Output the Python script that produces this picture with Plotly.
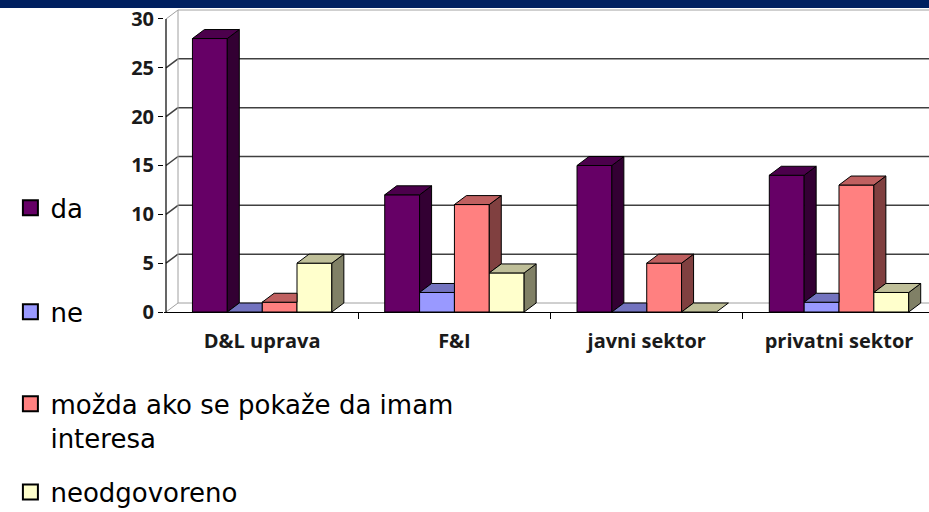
import plotly.graph_objects as go

categories = ["D&L uprava", "F&I", "javni sektor", "privatni sektor"]
series_names = ["da", "ne", "možda ako se pokaže da imam<br>interesa", "neodgovoreno"]
da = [28, 12, 15, 14]
ne = [0, 2, 0, 1]
mozda = [1, 11, 5, 13]
neodgovoreno = [5, 4, 0, 2]
y_ticks = [0, 5, 10, 15, 20, 25, 30]

front_colors = ["#660066", "#9999ff", "#ff8080", "#ffffcc"]
top_colors = ["#4c004c", "#7373bf", "#bf6060", "#bfbf99"]
side_colors = ["#330033", "#4d4d80", "#804040", "#808066"]

series = [da, ne, mozda, neodgovoreno]

# 3d look: depth offset in data units (about 12px right, 9px up)
bargap = 0.275
w = (1 - bargap) / len(series)
dx = 0.0624
dy = 0.92
x0 = -0.5
x_end = 3.468
y_top = 31.125
ymax = y_ticks[-1]

fig = go.Figure()

# front faces
for i, vals in enumerate(series):
    fig.add_trace(go.Bar(
        x=[c + (i - 1.5) * w for c in range(len(categories))],
        y=vals, width=w, name=series_names[i], showlegend=False,
        marker=dict(color=front_colors[i], line=dict(color="black", width=1)),
    ))


def face(xs, ys, color):
    fig.add_trace(go.Scatter(x=xs + [xs[0]], y=ys + [ys[0]], mode="lines", fill="toself",
                             fillcolor=color, line=dict(color="black", width=1),
                             hoverinfo="skip", showlegend=False))


# top and side faces, left to right so nearer faces cover the others
for c in range(len(categories)):
    for i, vals in enumerate(series):
        h = vals[c]
        L = c + (i - 1.5) * w - w / 2
        R = L + w
        nxt = series[i + 1][c] if i + 1 < len(series) else None
        # side face, hidden below the next bar's height
        b = 0 if nxt is None else nxt
        if b < h:
            face([R, R, R + dx, R + dx], [b, h, h + dy, b + dy], side_colors[i])
        # top face, cut where the next bar is taller
        if nxt is not None and nxt > h:
            face([L, R, R, L + dx], [h, h, h + dy, h + dy], top_colors[i])
        else:
            face([L, R, R + dx, L + dx], [h, h, h + dy, h + dy], top_colors[i])

# legend entries (square swatches), one legend box per series
for i in range(len(series)):
    fig.add_trace(go.Scatter(
        x=[None], y=[None], mode="markers", name=series_names[i],
        marker=dict(symbol="square", size=15, color=front_colors[i], line=dict(color="black", width=2)),
        legend="legend" if i == 0 else "legend%d" % (i + 1),
    ))

# walls
shapes = []
for v in y_ticks:
    col = "#a0a0a0" if v in (0, ymax) else "#404040"
    wd = 1 if v in (0, ymax) else 1.5
    shapes.append(dict(type="line", xref="x", yref="y", x0=x0 + dx, x1=x_end + 1, y0=v + dy, y1=v + dy,
                       line=dict(color=col, width=wd), layer="below"))
    shapes.append(dict(type="line", xref="x", yref="y", x0=x0, x1=x0 + dx, y0=v, y1=v + dy,
                       line=dict(color=col, width=wd), layer="below"))
shapes.append(dict(type="line", xref="x", yref="y", x0=x0 + dx, x1=x0 + dx, y0=dy, y1=ymax + dy,
                   line=dict(color="#a0a0a0", width=1), layer="below"))
shapes.append(dict(type="line", xref="x", yref="y", x0=x0, x1=x0, y0=0, y1=ymax,
                   line=dict(color="black", width=1.2), layer="below"))
# title band
shapes.append(dict(type="rect", xref="paper", yref="paper", x0=-0.3, x1=1.1, y0=1.0, y1=1.04,
                   fillcolor="#002060", line=dict(width=0)))

fig.update_layout(
    width=929, height=512,
    margin=dict(l=164, r=0, t=8, b=200, autoexpand=False),
    paper_bgcolor="white", plot_bgcolor="white",
    barmode="overlay",
    shapes=shapes,
    font=dict(family="DejaVu Sans", color="black"),
    xaxis=dict(range=[x0 - 0.0104, x_end], tickvals=list(range(len(categories))), ticktext=categories,
               ticks="", showgrid=False, zeroline=False, showline=True, linecolor="black", linewidth=1.2,
               tickfont=dict(size=20, family="Open Sans", weight="bold", color="#1a1a1a"),
               ticklabelstandoff=11, automargin=False,
               minor=dict(tickmode="array", tickvals=[0.5, 1.5, 2.5], ticks="outside", ticklen=6,
                          tickcolor="black", showgrid=False)),
    yaxis=dict(range=[0, y_top], tickvals=y_ticks, ticks="outside", ticklen=5, tickcolor="black",
               showgrid=False, zeroline=False, showline=False, automargin=False,
               tickfont=dict(size=20, family="Open Sans", weight="bold", color="#1a1a1a")),
)

legend_y = [0.594, 0.391, 0.178, 0.039]
for k in range(len(series)):
    key = "legend" if k == 0 else "legend%d" % (k + 1)
    fig.update_layout(**{key: dict(x=0.0112, y=legend_y[k], xref="container", yref="container",
                                   xanchor="left", yanchor="middle", valign="top",
                                   bgcolor="rgba(0,0,0,0)", itemwidth=30,
                                   font=dict(size=26, family="DejaVu Sans", color="black"))})

fig.write_html("out.html", config={"displayModeBar": False},
               post_script="document.body.style.margin='0';")
